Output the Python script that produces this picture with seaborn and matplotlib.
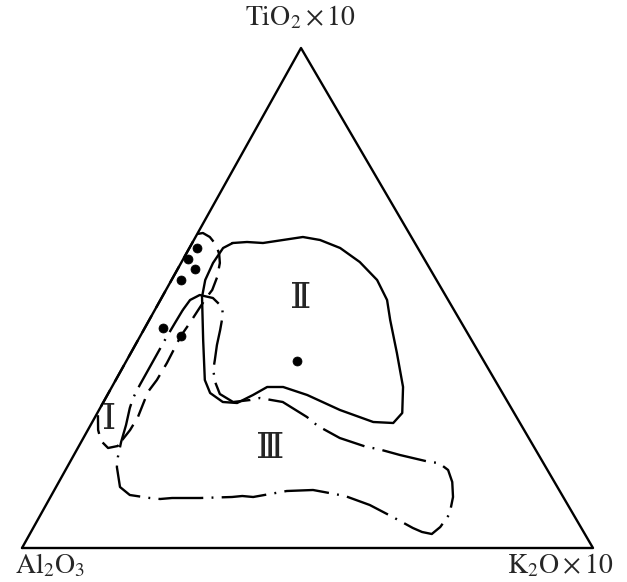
import numpy as np
import seaborn as sns
import matplotlib
matplotlib.use("Agg")
import matplotlib.pyplot as plt

# Ternary compositions in percent: t = TiO2 x10 share, k = K2O x10 share
# (Al2O3 is the remainder, 100 - t - k)

# sample points
dot_t = [60.0, 57.8, 55.8, 53.6, 44.0, 42.4, 37.4]
dot_k = [1.3, 0.8, 3.0, 1.7, 3.2, 7.1, 29.9]

# field I (dashed)
field1_t = [21.6, 23.6, 26.2, 31.2, 33.6, 37.0, 42.4, 45.0, 47.6, 50.0, 51.6, 54.2,
            57.0, 58.8, 60.6, 62.2, 63.0, 62.8, 40.0, 27.2, 23.6, 21.4, 20.0, 20.4, 21.6]
field1_k = [7.0, 7.4, 7.5, 6.8, 7.2, 7.3, 7.1, 7.4, 7.6, 7.8, 8.1, 7.7,
            6.8, 5.8, 4.4, 2.5, 0.9, 0.0, 0.0, 0.0, 1.8, 3.4, 5.3, 6.8, 7.0]

# field II (solid)
field2_t = [61.0, 61.2, 61.0, 61.6, 62.2, 61.6, 60.0, 57.2, 53.6, 49.6, 45.6, 39.0,
            32.2, 27.0, 25.0, 25.2, 27.6, 30.6, 32.2, 32.2, 30.6, 29.0, 29.2, 31.0,
            33.6, 41.6, 50.2, 53.6, 57.0, 60.0, 61.0]
field2_k = [7.1, 9.5, 12.4, 15.6, 18.8, 22.1, 26.4, 31.2, 36.0, 39.7, 42.2, 46.6,
            51.0, 53.4, 52.8, 49.2, 42.2, 35.0, 30.0, 27.2, 25.5, 23.5, 20.9, 17.8,
            15.6, 11.4, 7.0, 5.9, 5.6, 5.9, 7.1]

# field III (dash-dot)
field3_t = [47.6, 49.6, 50.6, 50.0, 48.2, 46.6, 43.6, 40.6, 37.6, 35.6, 33.2, 30.8,
            29.2, 29.6, 30.0, 29.2, 26.2, 24.4, 22.0, 20.2, 19.8, 18.6, 17.2, 17.0,
            15.6, 13.2, 10.2, 7.0, 6.4, 4.2, 2.8, 3.2, 4.0, 6.2, 8.6, 10.4, 11.2,
            11.6, 11.4, 10.2, 10.4, 10.2, 10.0, 10.0, 9.8, 10.0, 10.6, 12.2, 16.2,
            18.2, 21.2, 24.6, 28.0, 30.0, 32.6, 35.6, 38.8, 41.6, 45.0, 47.6]
field3_k = [4.9, 5.2, 6.4, 9.0, 11.5, 12.4, 13.4, 14.3, 15.4, 16.1, 17.6, 19.6,
            22.7, 25.5, 27.0, 31.4, 37.1, 39.9, 44.9, 50.5, 52.7, 57.1, 63.0, 64.7,
            67.0, 68.9, 70.5, 71.5, 71.5, 71.2, 70.4, 68.5, 66.5, 61.9, 56.7, 51.5, 47.4,
            45.3, 40.8, 35.5, 33.5, 31.8, 26.3, 21.4, 19.4, 17.5, 13.7, 11.2, 8.7,
            7.9, 7.0, 6.2, 5.2, 4.8, 4.7, 4.7, 4.7, 4.7, 4.8, 4.9]

field_names = ["\u2160", "\u2161", "\u2162"]
field_label_t = [25.8, 50.0, 20.0]
field_label_k = [2.6, 24.3, 33.7]

APEX_X = 279 / 571  # horizontal position of the TiO2 apex (slightly skewed drawing)


def to_xy(t, k):
    t = np.asarray(t, dtype=float) / 100
    k = np.asarray(k, dtype=float) / 100
    return k + t * APEX_X, t


sns.set_theme(style="white")
plt.rcParams["font.family"] = ["DejaVu Serif", "DejaVu Sans"]
plt.rcParams["mathtext.fontset"] = "stix"

fig = plt.figure(figsize=(6.27, 5.82), dpi=100)
ax = fig.add_axes([22 / 627, 34 / 582, 571 / 627, 500 / 582])
ax.set_xlim(0, 1)
ax.set_ylim(0, 1)
ax.axis("off")

# triangle frame
tri_x, tri_y = to_xy([0, 0, 100, 0], [0, 100, 0, 0])
sns.lineplot(x=tri_x, y=tri_y, sort=False, estimator=None, color="black",
             lw=1.7, ax=ax, clip_on=False)

lw = 1.7
x1, y1 = to_xy(field1_t, field1_k)
sns.lineplot(x=x1, y=y1, sort=False, estimator=None, color="black", lw=lw, ax=ax,
             linestyle=(0, (8, 4)))
x2, y2 = to_xy(field2_t, field2_k)
sns.lineplot(x=x2, y=y2, sort=False, estimator=None, color="black", lw=lw, ax=ax)
x3, y3 = to_xy(field3_t, field3_k)
sns.lineplot(x=x3, y=y3, sort=False, estimator=None, color="black", lw=lw, ax=ax,
             linestyle=(0, (19, 3.5, 0.8, 3.5)))

dx, dy = to_xy(dot_t, dot_k)
sns.scatterplot(x=dx, y=dy, color="black", s=42, edgecolor="black", ax=ax, zorder=5)

lx, ly = to_xy(field_label_t, field_label_k)
for name, px, py in zip(field_names, lx, ly):
    ax.text(px, py, name, ha="center", va="center", fontsize=26)

fig.text(300 / 627, 1 - 17 / 582, r"$\mathrm{TiO_2}\times 10$", ha="center", va="center", fontsize=20)
fig.text(50 / 627, 1 - 565 / 582, r"$\mathrm{Al_2O_3}$", ha="center", va="center", fontsize=20)
fig.text(560 / 627, 1 - 565 / 582, r"$\mathrm{K_2O}\times 10$", ha="center", va="center", fontsize=20)

fig.savefig("out.png", dpi=100, facecolor="white")
